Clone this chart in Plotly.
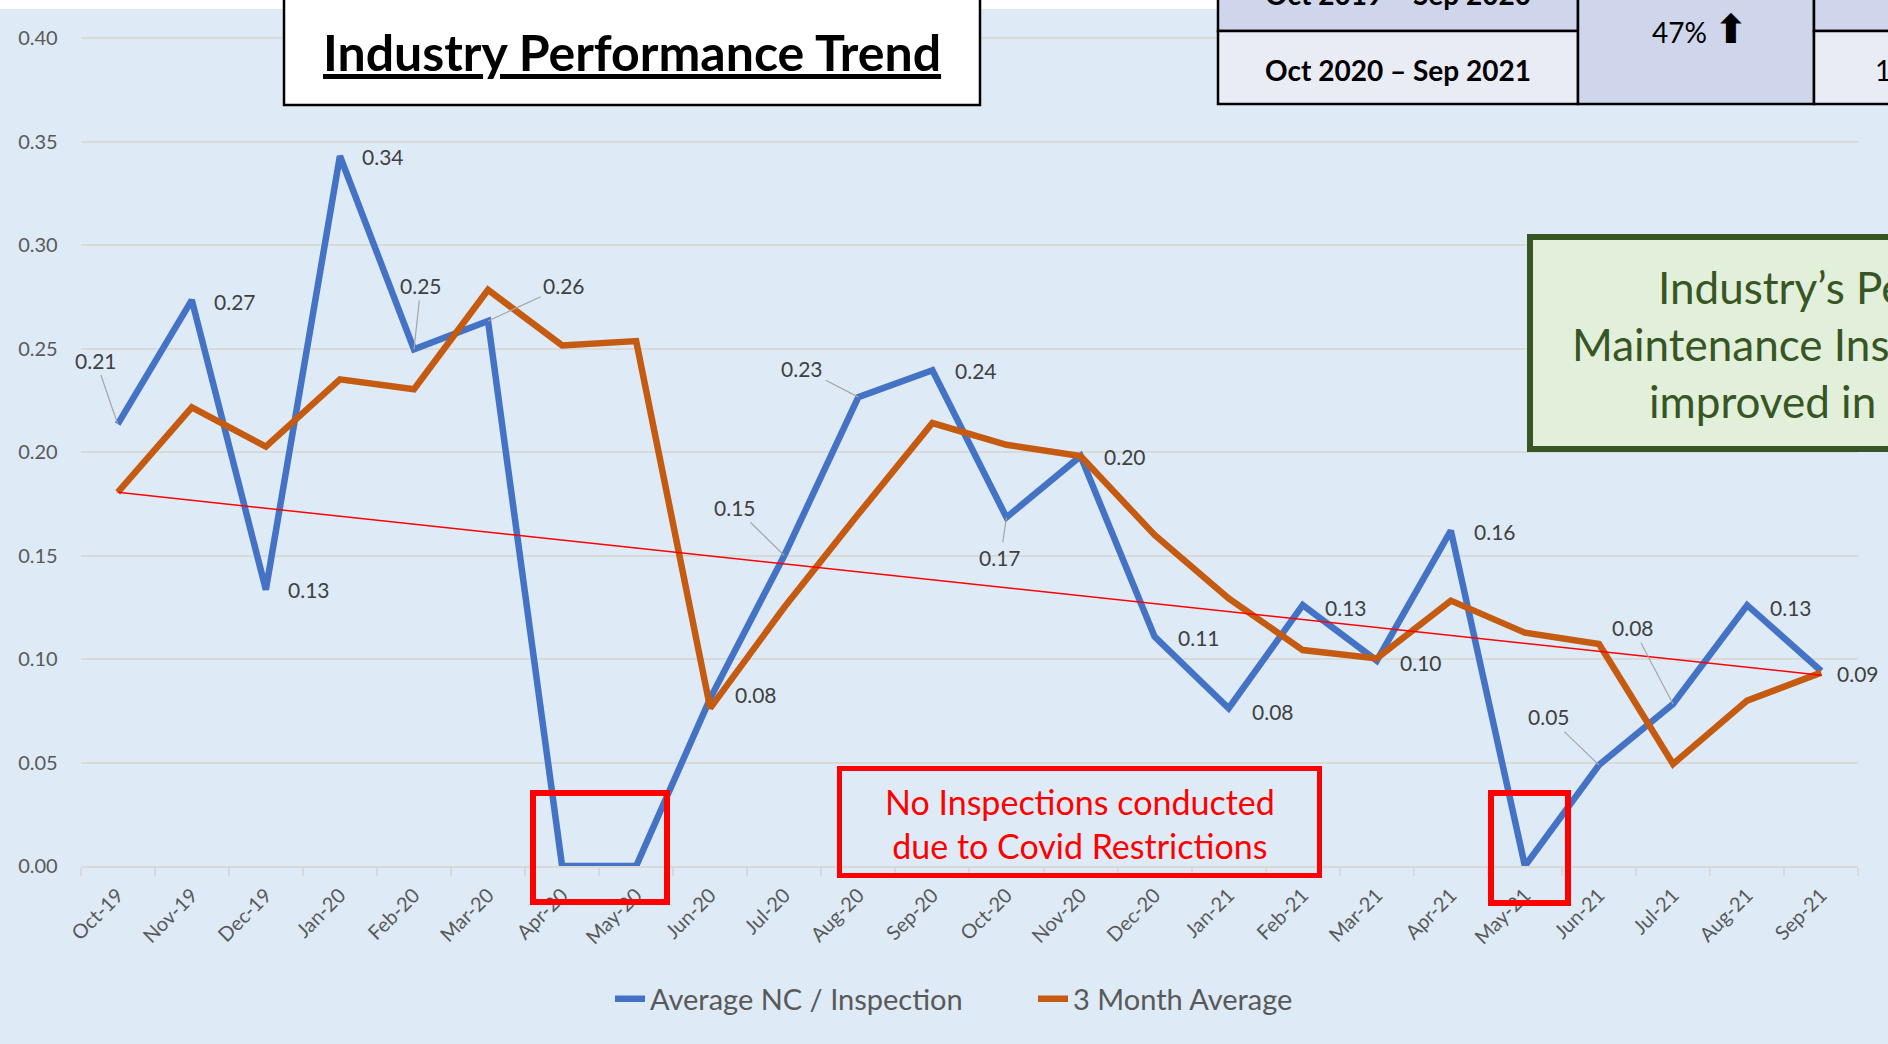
import plotly.graph_objects as go

# ---------------- data ----------------
months = ["Oct-19", "Nov-19", "Dec-19", "Jan-20", "Feb-20", "Mar-20", "Apr-20", "May-20",
          "Jun-20", "Jul-20", "Aug-20", "Sep-20", "Oct-20", "Nov-20", "Dec-20", "Jan-21",
          "Feb-21", "Mar-21", "Apr-21", "May-21", "Jun-21", "Jul-21", "Aug-21", "Sep-21"]
avg_nc = [0.2135, 0.2734, 0.1335, 0.343, 0.2496, 0.2633, 0.0, 0.0,
          0.081, 0.150, 0.2265, 0.2395, 0.1684, 0.198, 0.1108, 0.0762,
          0.126, 0.0992, 0.162, 0.0, 0.0488, 0.0783, 0.126, 0.0942]
three_month = [0.1805, 0.2216, 0.2026, 0.2351, 0.2303, 0.2783, 0.2515, 0.2536,
               0.0763, 0.125, 0.170, 0.214, 0.2035, 0.198, 0.1599, 0.1293,
               0.1043, 0.1003, 0.1282, 0.1127, 0.1072, 0.0493, 0.0799, 0.0934]
trend_ends = [0.1805, 0.0922]
y_ticks = [0.0, 0.05, 0.10, 0.15, 0.20, 0.25, 0.30, 0.35, 0.40]

# label offsets (pixels, dx, dy-down, leader?) -- styling only
label_style = [(-22, -64, True), (43, 1, False), (43, 0, False), (43, 1, False),
               (7, -64, True), (76, -35, True), None, None,
               (46, -4, False), (-49, -48, True), (-56, -29, True), (44, 0, False),
               (-6, 40, True), (44, 0, False), (44, 1, False), (44, 3, False),
               (43, 2, False), (44, 2, False), (44, 1, False), None,
               (-50, -48, True), (-40, -76, True), (44, 2, False), (37, 2, False)]

W, H = 1888, 1044
FONT = "Lato"
BG = "#DEEBF7"


def px(x):
    return x / W


def py(y):
    return 1 - y / H


def txt(x, y, text, size, color="black", xanchor="center", yanchor="middle", align="center"):
    return dict(xref="paper", yref="paper", x=px(x), y=py(y), showarrow=False, text=text,
                xanchor=xanchor, yanchor=yanchor, align=align,
                font=dict(family=FONT, size=size, color=color))


def box(x0, x1, y0, y1, fill, color, width):
    return dict(type="rect", xref="paper", yref="paper", x0=px(x0), x1=px(x1), y0=py(y1), y1=py(y0),
                fillcolor=fill, line=dict(color=color, width=width), layer="above")


fig = go.Figure()
fig.add_trace(go.Scatter(x=months, y=avg_nc, mode="lines", name="Average NC / Inspection",
                         line=dict(color="#4472C4", width=6.5)))
fig.add_trace(go.Scatter(x=months, y=three_month, mode="lines", name="3 Month Average",
                         line=dict(color="#C55A11", width=6.5)))
fig.add_trace(go.Scatter(x=[months[0], months[-1]], y=trend_ends, mode="lines",
                         showlegend=False, line=dict(color="#FF0000", width=1.5)))

annotations = []
for m, v, st in zip(months, avg_nc, label_style):
    if st is None:
        continue
    dx, dy, leader = st
    base = dict(x=m, y=v, xref="x", yref="y", text=f"{v:.2f}", xanchor="center", yanchor="middle",
                font=dict(family=FONT, size=21, color="#404040"))
    if leader:
        base.update(showarrow=True, ax=dx, ay=dy, arrowhead=0, arrowwidth=1.2,
                    arrowcolor="#A6A6A6", standoff=0, startstandoff=1)
    else:
        base.update(showarrow=False, xshift=dx, yshift=-dy)
    annotations.append(base)

shapes = []
# white strip at top
shapes.append(box(-5, 1218, -20, 9, "white", "white", 0))
# title box
shapes.append(box(284, 980, -10, 105, "white", "black", 2.5))
annotations.append(txt(632, 52, "<b><u>Industry Performance Trend</u></b>", 50))
# table
for x0, x1, y0, y1, c in [(1218, 1578, -60, 31, "#CFD5EA"), (1218, 1578, 31, 104, "#E9EBF5"),
                          (1578, 1814, -60, 104, "#CFD5EA"), (1814, 1920, -60, 31, "#CFD5EA"),
                          (1814, 1920, 31, 104, "#E9EBF5")]:
    shapes.append(box(x0, x1, y0, y1, c, "black", 2.5))
annotations.append(txt(1398, -6, "<b>Oct 2019 – Sep 2020</b>", 28))
annotations.append(txt(1398, 70, "<b>Oct 2020 – Sep 2021</b>", 28))
annotations.append(txt(1700, 29, "47% <span style='font-family:DejaVu Sans;font-size:40px'><b>⬆</b></span>", 28))
annotations.append(txt(1873, 70, "1", 28, xanchor="left"))
# green note box
shapes.append(box(1530, 1930, 237, 449, "#E2EFDA", "#375623", 6))
for xl, yc, t in [(1656, 287, "Industry’s Performance"), (1570, 344, "Maintenance Inspections"),
                  (1647, 401, "improved in 2021")]:
    annotations.append(txt(xl, yc, t, 44, color="#375623", xanchor="left"))
# covid boxes
shapes.append(box(533, 667, 793, 902, "rgba(0,0,0,0)", "#FF0000", 6))
shapes.append(box(1491, 1568, 793, 903, "rgba(0,0,0,0)", "#FF0000", 6))
shapes.append(box(839.5, 1319.5, 768.5, 875.5, "rgba(0,0,0,0)", "#FF0000", 5))
annotations.append(txt(1080, 823, "No Inspections conducted<br>due to Covid Restrictions", 34,
                       color="#FF0000"))

fig.update_layout(
    width=W, height=H,
    margin=dict(l=0, r=0, t=0, b=0),
    paper_bgcolor=BG, plot_bgcolor=BG,
    font=dict(family=FONT, color="#595959"),
    showlegend=True,
    legend=dict(orientation="h", x=px(610), xanchor="left", y=py(999), yanchor="middle",
                font=dict(family=FONT, size=29, color="#595959"), bgcolor="rgba(0,0,0,0)",
                entrywidth=378, entrywidthmode="pixels"),
    xaxis=dict(domain=[px(80.7), px(1858.2)], range=[-0.5, 23.5], type="category",
               tickangle=-45, tickfont=dict(family=FONT, size=20, color="#595959"),
               showgrid=False, showline=True, linecolor="#D9D9D9", linewidth=1.5,
               ticks="outside", ticklen=8, tickcolor="#D9D9D9", tickwidth=1.5,
               tickson="boundaries", automargin=False, zeroline=False, ticklabelstandoff=8),
    yaxis=dict(domain=[py(866), 1], range=[0, 866 / 2070.0], tickvals=y_ticks, tickformat=".2f",
               tickfont=dict(family=FONT, size=20, color="#595959"),
               showgrid=True, gridcolor="#D9D9D9", gridwidth=1.5, zeroline=False,
               showline=False, ticks="", ticklabelstandoff=22, automargin=False),
    shapes=shapes, annotations=annotations,
)

fig.write_html("out.html", config={"displayModeBar": False},
               post_script="document.body.style.margin='0';")
